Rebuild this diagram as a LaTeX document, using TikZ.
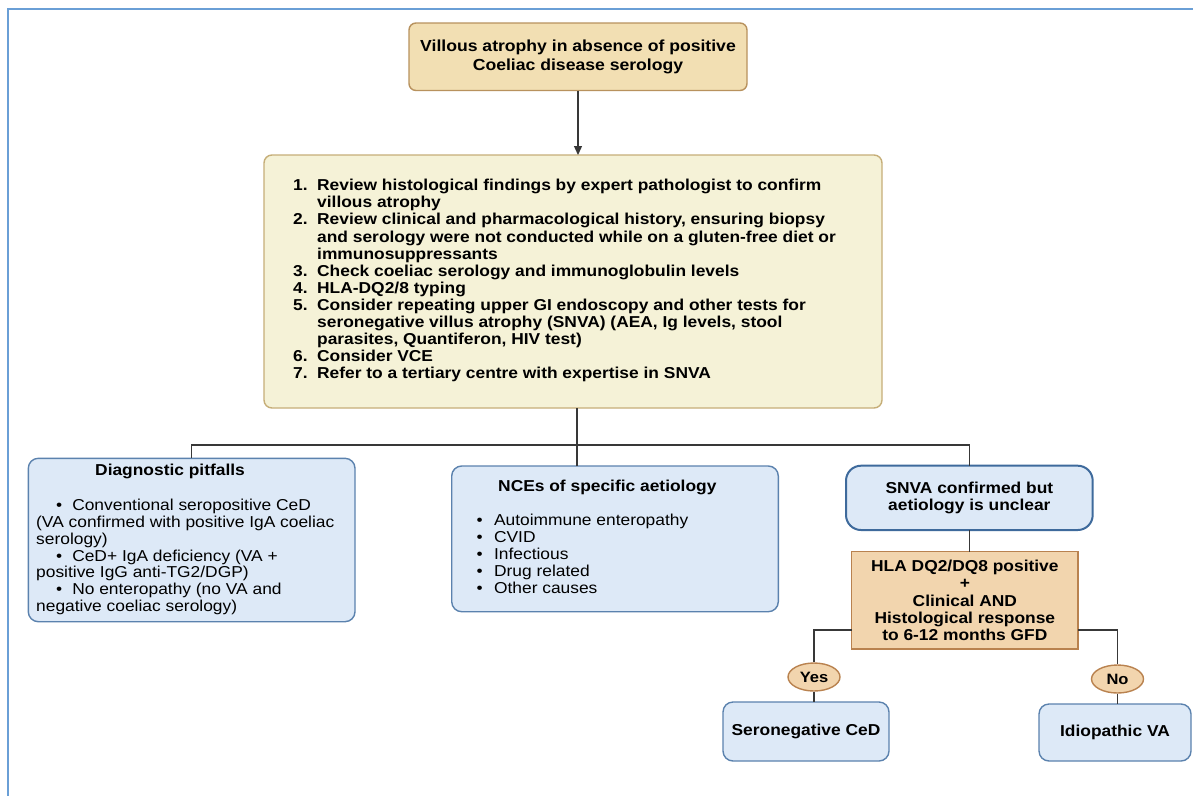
\documentclass[tikz,border=0pt]{standalone}
\usepackage{fontspec}
\setmainfont{Liberation Sans}[FakeStretch=1.1]
\usetikzlibrary{arrows.meta,shapes.geometric}

\definecolor{framebl}{HTML}{6A9FD6}
\definecolor{tanfill}{HTML}{F2DFB3}
\definecolor{tanline}{HTML}{B8925E}
\definecolor{creamfill}{HTML}{F5F2D7}
\definecolor{creamline}{HTML}{C6AE78}
\definecolor{bluefill}{HTML}{DDE9F7}
\definecolor{blueline}{HTML}{5B82AE}
\definecolor{bluedark}{HTML}{3E6A9C}
\definecolor{peachfill}{HTML}{F2D5AE}
\definecolor{peachline}{HTML}{B9824F}
\definecolor{wirecol}{HTML}{383838}

\newcommand\stepnum[1]{\makebox[24pt][l]{#1}}
\newcommand\blt{\hspace{20pt}\textbullet\hspace{10pt}}

\begin{document}
\begin{tikzpicture}[x=1pt,y=-1pt,
  base/.style={inner sep=0pt, outer sep=0pt, line width=1.4pt, align=center,
    font=\bfseries\fontsize{15.8}{17.2}\selectfont, text=black},
  tanbox/.style={base, draw=tanline, fill=tanfill, rounded corners=7pt},
  creambox/.style={base, draw=creamline, fill=creamfill, rounded corners=8pt},
  bluebox/.style={base, draw=blueline, fill=bluefill, rounded corners=10pt},
  peachbox/.style={base, draw=peachline, fill=peachfill},
  tag/.style={ellipse, draw=peachline, fill=peachfill, line width=1.4pt,
    inner sep=0pt, minimum width=52pt, minimum height=28pt,
    font=\bfseries\fontsize{15}{17}\selectfont},
  wire/.style={draw=wirecol, line width=1.3pt},
  txt/.style={inner sep=0pt, anchor=base west, font=\fontsize{15.8}{16.8}\selectfont},
  txtb/.style={inner sep=0pt, anchor=base west, font=\bfseries\fontsize{15.8}{17.1}\selectfont}]

\useasboundingbox (0,0) rectangle (1193,796);
\fill[white] (0,0) rectangle (1193,796);

% page frame
\draw[framebl, line width=2.5pt, line join=miter] (1193,9) -- (8,9) -- (8,796);

% boxes
\node[tanbox, minimum width=338pt, minimum height=67.5pt,
      font=\bfseries\fontsize{16}{19}\selectfont] (title) at (578,56.75)
  {Villous atrophy in absence of positive\\Coeliac disease serology};

\node[creambox, minimum width=618pt, minimum height=253pt] (steps) at (573,281.5) {};
\node[txtb] (stepstext) at (293,190.7) {\begin{tabular}[t]{@{}l@{}l@{}}
\stepnum{1.}&Review histological findings by expert pathologist to confirm\\
&villous atrophy\\
\stepnum{2.}&Review clinical and pharmacological history, ensuring biopsy\\
&and serology were not conducted while on a gluten-free diet or\\
&immunosuppressants\\
\stepnum{3.}&Check coeliac serology and immunoglobulin levels\\
\stepnum{4.}&HLA-DQ2/8 typing\\
\stepnum{5.}&Consider repeating upper GI endoscopy and other tests for\\
&seronegative villus atrophy (SNVA) (AEA, Ig levels, stool\\
&parasites, Quantiferon, HIV test)\\
\stepnum{6.}&Consider VCE\\
\stepnum{7.}&Refer to a tertiary centre with expertise in SNVA
\end{tabular}};

\node[bluebox, minimum width=326.7pt, minimum height=163.4pt] (pit) at (191.65,540) {};
\node[txtb] (pittitle) at (95,475) {Diagnostic pitfalls};
\node[txt] (pitlist) at (36,510.7) {\begin{tabular}[t]{@{}l@{}}
\blt Conventional seropositive CeD\\
(VA confirmed with positive IgA coeliac\\
serology)\\
\blt CeD+ IgA deficiency (VA +\\
positive IgG anti-TG2/DGP)\\
\blt No enteropathy (no VA and\\
negative coeliac serology)
\end{tabular}};

\node[bluebox, minimum width=326.6pt, minimum height=145.7pt] (nce) at (615,538.85) {};
\node[txtb] (ncetitle) at (498,491.7) {NCEs of specific aetiology};
\node[txt, font=\fontsize{15.8}{17}\selectfont] (ncelist) at (476.3,525) {\begin{tabular}[t]{@{}l@{\hspace{11.5pt}}l@{}}
\textbullet&Autoimmune enteropathy\\
\textbullet&CVID\\
\textbullet&Infectious\\
\textbullet&Drug related\\
\textbullet&Other causes
\end{tabular}};

\node[bluebox, draw=bluedark, line width=2pt, rounded corners=15pt,
      minimum width=246.7pt, minimum height=64.3pt] (snva) at (969.35,497.85)
  {SNVA confirmed but\\aetiology is unclear};

\node[peachbox, minimum width=226.3pt, minimum height=97.3pt] (hla) at (964.85,600.35)
  {HLA DQ2/DQ8 positive\\+\\Clinical AND\\Histological response\\to 6-12 months GFD};

\node[tag] (yes) at (814,677) {Yes};
\node[tag] (no) at (1117.5,679) {No};

\node[bluebox, minimum width=166pt, minimum height=59pt] (sero) at (806,731.5) {Seronegative CeD};
\node[bluebox, minimum width=152pt, minimum height=57pt] (idio) at (1115,732.5) {Idiopathic VA};

% connectors
\coordinate (bus) at (577,445);
\draw[wire, -{Triangle[length=9pt,width=8pt]}] (title.south) -- (title.south |- steps.north);
\draw[wire] (bus |- steps.south) -- (bus);
\draw[wire] (pit.north) |- (bus);
\draw[wire] (snva.north) |- (bus);
\draw[wire] (bus) -- (bus |- nce.north);
\draw[wire] (snva.south) -- (snva.south |- hla.north);
\draw[wire] ([yshift=-29.65pt]hla.west) -| (yes.north);
\draw[wire] (yes.south) -- (yes.south |- sero.north);
\draw[wire] ([yshift=-29.65pt]hla.east) -| (no.north);
\draw[wire] (no.south) -- (no.south |- idio.north);
\end{tikzpicture}
\end{document}
